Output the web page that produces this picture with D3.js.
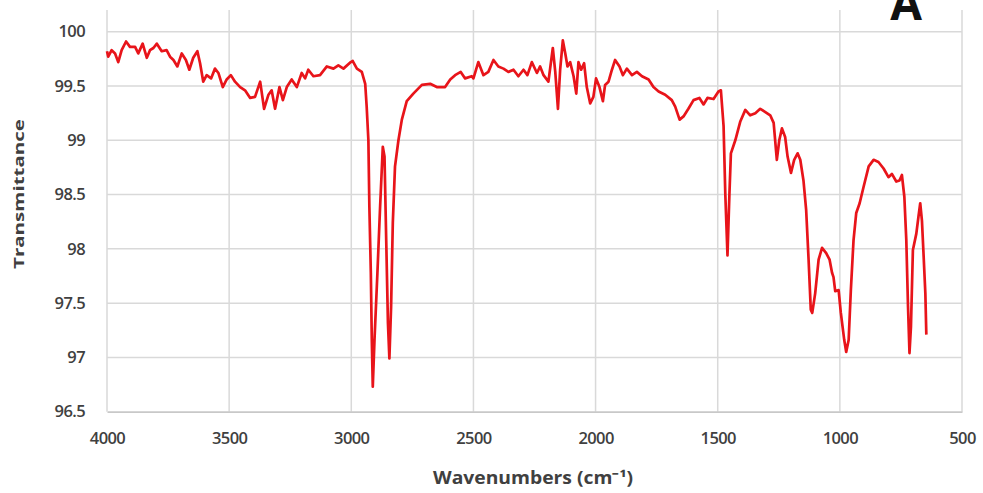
<!DOCTYPE html>
<html>
<head>
<meta charset="utf-8">
<script src="https://cdn.jsdelivr.net/npm/d3@7"></script>
<style>
  html, body { margin: 0; padding: 0; background: #fff; }
  svg { display: block; }
</style>
</head>
<body>
<svg id="chart" width="983" height="493"></svg>
<script>
// ---- Data ----
const wavenumbers = [
  4000, 3995, 3981, 3967, 3954, 3940, 3922, 3906, 3885, 3872, 3854, 3837, 3824, 3810, 3796, 3776,
  3756, 3742, 3728, 3712, 3694, 3677, 3663, 3647, 3630, 3619, 3606, 3592, 3574, 3558, 3544, 3526,
  3510, 3493, 3476, 3455, 3435, 3414, 3394, 3373, 3357, 3339, 3326, 3312, 3294, 3280, 3264, 3244,
  3223, 3203, 3189, 3176, 3155, 3128, 3100, 3073, 3053, 3032, 3002, 2994, 2977, 2957, 2943, 2937,
  2930, 2926, 2920, 2916, 2912, 2905, 2893, 2882, 2871, 2864, 2857, 2850, 2844, 2837, 2830, 2821,
  2807, 2793, 2773, 2746, 2711, 2677, 2650, 2616, 2595, 2575, 2552, 2534, 2507, 2500, 2480, 2459,
  2439, 2418, 2398, 2377, 2357, 2336, 2316, 2295, 2279, 2261, 2240, 2227, 2213, 2193, 2175, 2165,
  2154, 2145, 2134, 2124, 2115, 2104, 2090, 2079, 2070, 2059, 2047, 2036, 2022, 2009, 1998, 1984,
  1970, 1961, 1947, 1933, 1920, 1902, 1888, 1872, 1851, 1831, 1810, 1783, 1763, 1742, 1715, 1688,
  1674, 1656, 1640, 1620, 1599, 1575, 1558, 1542, 1517, 1497, 1487, 1476, 1469, 1460, 1452, 1446,
  1428, 1408, 1387, 1367, 1346, 1326, 1305, 1285, 1271, 1258, 1248, 1237, 1224, 1214, 1200, 1187,
  1173, 1162, 1149, 1138, 1128, 1119, 1113, 1101, 1087, 1073, 1056, 1042, 1032, 1026, 1019, 1005,
  996, 982, 974, 964, 955, 944, 933, 919, 903, 882, 862, 842, 821, 801, 787, 769,
  756, 746, 736, 728, 721, 715, 709, 701, 687, 678, 671, 664, 657, 650, 646
];
const transmittance = [
  99.82, 99.77, 99.83, 99.80, 99.72, 99.83, 99.91, 99.86, 99.86, 99.80, 99.89, 99.76, 99.83, 99.85, 99.89, 99.82,
  99.83, 99.77, 99.74, 99.68, 99.80, 99.74, 99.65, 99.76, 99.82, 99.71, 99.54, 99.60, 99.57, 99.66, 99.62, 99.49,
  99.56, 99.60, 99.54, 99.49, 99.46, 99.39, 99.40, 99.54, 99.29, 99.42, 99.46, 99.29, 99.49, 99.37, 99.49, 99.56,
  99.49, 99.62, 99.57, 99.65, 99.59, 99.60, 99.68, 99.66, 99.69, 99.66, 99.72, 99.73, 99.66, 99.63, 99.52, 99.31,
  99.00, 98.39, 97.78, 97.16, 96.73, 97.16, 97.78, 98.39, 98.94, 98.85, 98.08, 97.32, 96.99, 97.47, 98.24, 98.76,
  99.00, 99.19, 99.36, 99.43, 99.51, 99.52, 99.49, 99.49, 99.56, 99.60, 99.63, 99.57, 99.59, 99.57, 99.72, 99.60,
  99.63, 99.74, 99.68, 99.66, 99.63, 99.65, 99.59, 99.65, 99.60, 99.72, 99.62, 99.68, 99.60, 99.54, 99.85, 99.63,
  99.29, 99.65, 99.92, 99.80, 99.68, 99.72, 99.59, 99.43, 99.72, 99.65, 99.71, 99.49, 99.34, 99.40, 99.57, 99.49,
  99.36, 99.51, 99.54, 99.65, 99.74, 99.68, 99.60, 99.66, 99.60, 99.63, 99.59, 99.56, 99.49, 99.45, 99.42, 99.37,
  99.31, 99.19, 99.22, 99.29, 99.37, 99.39, 99.33, 99.39, 99.38, 99.45, 99.46, 99.13, 98.51, 97.94, 98.51, 98.88,
  99.00, 99.17, 99.28, 99.23, 99.25, 99.29, 99.26, 99.23, 99.16, 98.82, 99.00, 99.11, 99.03, 98.85, 98.70, 98.82,
  98.88, 98.82, 98.63, 98.36, 97.90, 97.44, 97.41, 97.59, 97.90, 98.01, 97.96, 97.90, 97.78, 97.74, 97.61, 97.62,
  97.41, 97.16, 97.05, 97.16, 97.62, 98.08, 98.33, 98.42, 98.57, 98.76, 98.82, 98.80, 98.74, 98.66, 98.69, 98.62,
  98.63, 98.68, 98.48, 98.08, 97.47, 97.04, 97.28, 97.99, 98.14, 98.30, 98.42, 98.26, 97.93, 97.59, 97.21
];
const xTickValues = [4000, 3500, 3000, 2500, 2000, 1500, 1000, 500];
const xTickLabels = ["4000", "3500", "3000", "2500", "2000", "1500", "1000", "500"];
const yTickValues = [96.5, 97, 97.5, 98, 98.5, 99, 99.5, 100];
const yTickLabels = ["96.5", "97", "97.5", "98", "98.5", "99", "99.5", "100"];
const xTitle = "Wavenumbers (cm\u207B\u00B9)";
const yTitle = "Transmittance";
const panelLabel = "A";

(function () {
// ---- Layout ----
const svg = d3.select("#chart");
const pLeft = 107, pRight = 962, pTop = 10, pBottom = 411.7;
const x = d3.scaleLinear().domain([4000, 500]).range([pLeft, pRight]);
const y = d3.scaleLinear().domain([96.5, 100.2]).range([pBottom, pTop]);
const font = "'Open Sans', 'Liberation Sans', sans-serif";

// Gridlines
const grid = svg.append("g");
grid.selectAll("line.h").data(yTickValues.slice(1)).enter().append("line")
  .attr("x1", pLeft).attr("x2", pRight)
  .attr("y1", d => y(d)).attr("y2", d => y(d))
  .attr("stroke", "#d9d9d9").attr("stroke-width", 1.5);
grid.selectAll("line.v").data(xTickValues.slice(1)).enter().append("line")
  .attr("x1", d => x(d)).attr("x2", d => x(d))
  .attr("y1", pTop).attr("y2", pBottom)
  .attr("stroke", "#d9d9d9").attr("stroke-width", 1.5);

// Axes
const xAxis = d3.axisBottom(x).tickValues(xTickValues)
  .tickFormat((d, i) => xTickLabels[i]).tickSize(0).tickPadding(21);
const gx = svg.append("g").attr("transform", `translate(0,${pBottom})`).call(xAxis);
gx.select(".domain").attr("stroke", "#c8c8c8").attr("stroke-width", 1.8);
gx.selectAll("text").attr("font-family", font).attr("font-size", 16.5)
  .attr("font-weight", 600).attr("fill", "#404040").attr("letter-spacing", "-0.6");

const yAxis = d3.axisLeft(y).tickValues(yTickValues)
  .tickFormat((d, i) => yTickLabels[i]).tickSize(0).tickPadding(22);
const gy = svg.append("g").attr("transform", `translate(${pLeft},0)`).call(yAxis);
gy.select(".domain").remove();
svg.append("line").attr("x1", pLeft).attr("x2", pLeft).attr("y1", pTop).attr("y2", pBottom)
  .attr("stroke", "#d9d9d9").attr("stroke-width", 1.5);
gy.selectAll("text").attr("font-family", font).attr("font-size", 16.5)
  .attr("font-weight", 600).attr("fill", "#404040").attr("letter-spacing", "-0.6");

// Spectrum line
const data = wavenumbers.map((w, i) => ({ w, t: transmittance[i] }));
svg.append("path").datum(data)
  .attr("fill", "none").attr("stroke", "#e8141a").attr("stroke-width", 2.7)
  .attr("stroke-linejoin", "round")
  .attr("d", d3.line().x(d => x(d.w)).y(d => y(d.t)));

// Titles
svg.append("text").attr("x", 533).attr("y", 484)
  .attr("text-anchor", "middle").attr("font-family", font).attr("font-size", 17)
  .attr("font-weight", 700).attr("fill", "#404040")
  .attr("textLength", 200).attr("lengthAdjust", "spacingAndGlyphs")
  .text(xTitle);
svg.append("text").attr("transform", "translate(24,194) rotate(-90)")
  .attr("text-anchor", "middle").attr("font-family", font).attr("font-size", 15)
  .attr("font-weight", 700).attr("fill", "#404040")
  .attr("textLength", 150).attr("lengthAdjust", "spacingAndGlyphs")
  .text(yTitle);

// Panel label
svg.append("text").attr("x", 906).attr("y", 20)
  .attr("text-anchor", "middle").attr("font-family", font).attr("font-size", 46)
  .attr("font-weight", 700).attr("fill", "#111")
  .text(panelLabel);
})();
</script>
</body>
</html>
